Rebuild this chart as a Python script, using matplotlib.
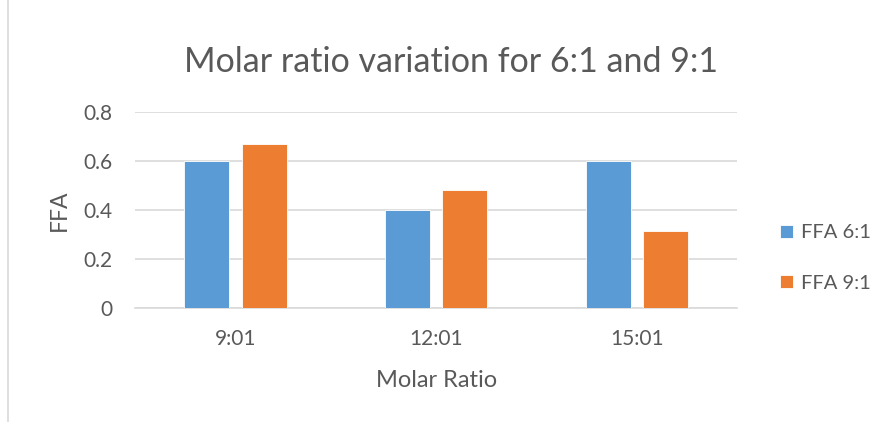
from matplotlib import pyplot as plt
from matplotlib.lines import Line2D
import numpy as np

categories = ['9:01', '12:01', '15:01']
ffa_6 = [0.60, 0.40, 0.60]
ffa_9 = [0.67, 0.48, 0.315]
series_names = ['FFA 6:1', 'FFA 9:1']

blue = '#5B9BD5'
orange = '#ED7D31'
txt = '#595959'

plt.rcParams['font.family'] = ['Lato', 'DejaVu Sans']

fig = plt.figure(figsize=(8.82, 4.22), dpi=100)
ax = fig.add_axes([0.153, 0.27, 0.683, 0.465])

x = np.arange(len(categories))
w = 0.224
ax.bar(x - 0.143, ffa_6, w, color=blue, edgecolor='white', linewidth=0.6, label=series_names[0], zorder=3)
ax.bar(x + 0.143, ffa_9, w, color=orange, edgecolor='white', linewidth=0.6, label=series_names[1], zorder=3)

ax.set_xlim(-0.5, 2.5)
ax.set_ylim(0, 0.8)
ax.set_yticks([0, 0.2, 0.4, 0.6, 0.8])
ax.set_yticklabels(['0', '0.2', '0.4', '0.6', '0.8'])
ax.set_xticks(x)
ax.set_xticklabels(categories)
ax.tick_params(axis='both', length=0, labelsize=15, colors=txt)
ax.tick_params(axis='y', pad=16)
ax.tick_params(axis='x', pad=15)
ax.yaxis.grid(True, color='#D9D9D9', linewidth=1.2, zorder=0)
for s in ['top', 'right', 'left']:
    ax.spines[s].set_visible(False)
ax.spines['bottom'].set_color('#D9D9D9')
ax.spines['bottom'].set_linewidth(1.2)

ax.set_xlabel('Molar Ratio', fontsize=17, color=txt, labelpad=15)
ax.set_ylabel('FFA', fontsize=16.5, color=txt)
ax.yaxis.set_label_coords(-0.108, 0.5)
fig.text(0.511, 0.852, 'Molar ratio variation for 6:1 and 9:1', ha='center', va='center',
         fontsize=24.5, color=txt)

ax.legend(loc='center left', bbox_to_anchor=(1.04, 0.255), frameon=False, fontsize=14.5,
          labelcolor=txt, handlelength=0.65, handleheight=0.65, handletextpad=0.4,
          labelspacing=1.65)

fig.add_artist(Line2D([0.009, 0.009], [0, 1], color='#D9D9D9', linewidth=1.2))

plt.savefig('out.png', dpi=100)
